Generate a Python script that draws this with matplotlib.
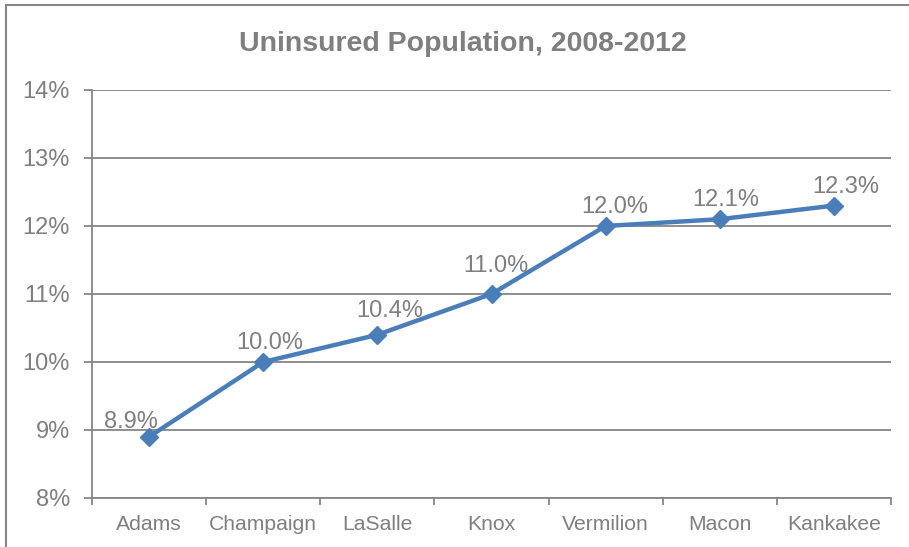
import matplotlib
matplotlib.use("Agg")
import matplotlib.pyplot as plt
from matplotlib.patches import Rectangle

categories = ["Adams", "Champaign", "LaSalle", "Knox", "Vermilion", "Macon", "Kankakee"]
values = [8.9, 10.0, 10.4, 11.0, 12.0, 12.1, 12.3]
yticks = [8, 9, 10, 11, 12, 13, 14]
title = "Uninsured Population, 2008-2012"

# label nudges in pixels (style only)
label_dx = [-18, 7, 12, 4, 9, 6, 12]
label_dy = [9, 13, 18, 22, 13, 13, 13]

plt.rcParams['font.family'] = ['Liberation Sans', 'DejaVu Sans']
W, H = 909, 547
fig = plt.figure(figsize=(W / 100, H / 100), dpi=100)
fig.patch.set_facecolor("white")

# chart frame
fig.add_artist(Rectangle((6 / W, -0.05), 1.2, 1 - 5 / H + 0.05, transform=fig.transFigure,
                         fill=False, edgecolor="#868686", linewidth=1.5))

ax = fig.add_axes([92 / W, 1 - 498 / H, (891 - 92) / W, (498 - 90) / H])
gray = "#868686"
txt = "#7f7f7f"
x = list(range(len(categories)))
ax.plot(x, values, color="#4A7EBB", linewidth=3.2, marker="D", markersize=9.5,
        markerfacecolor="#4A7EBB", markeredgecolor="#4A7EBB", zorder=3, clip_on=False)
for xi, v, dx, dy in zip(x, values, label_dx, label_dy):
    ax.annotate(f"{v:.1f}%", (xi, v), xytext=(dx * 0.72, dy * 0.72), textcoords="offset points",
                ha="center", va="baseline", fontsize=17, color=txt, zorder=4)

ax.set_xlim(-0.5, len(categories) - 0.5)
ax.set_ylim(8, 14)
ax.set_yticks(yticks)
ax.set_yticklabels([f"{t}%" for t in yticks], fontsize=17, color=txt)
ax.yaxis.grid(True, color=gray, linewidth=1.3)
ax.set_axisbelow(True)
ax.set_xticks([i - 0.5 for i in range(len(categories) + 1)])
ax.set_xticklabels([])
ax.set_xticks(x, minor=True)
ax.set_xticklabels(categories, minor=True, fontsize=15.2, color=txt)
ax.tick_params(axis="x", which="minor", length=0, pad=12)
ax.tick_params(axis="x", which="major", length=5, width=1.3, color=gray, direction="out")
ax.tick_params(axis="y", length=6, width=1.3, color=gray, pad=10)
for s in ["top", "right"]:
    ax.spines[s].set_visible(False)
for s in ["left", "bottom"]:
    ax.spines[s].set_color(gray)
    ax.spines[s].set_linewidth(1.3)

fig.text(463 / W, 1 - 44 / H, title, ha="center", va="center", fontsize=20.5,
         fontweight="bold", color=txt)

fig.savefig("out.png", dpi=100, facecolor="white")
